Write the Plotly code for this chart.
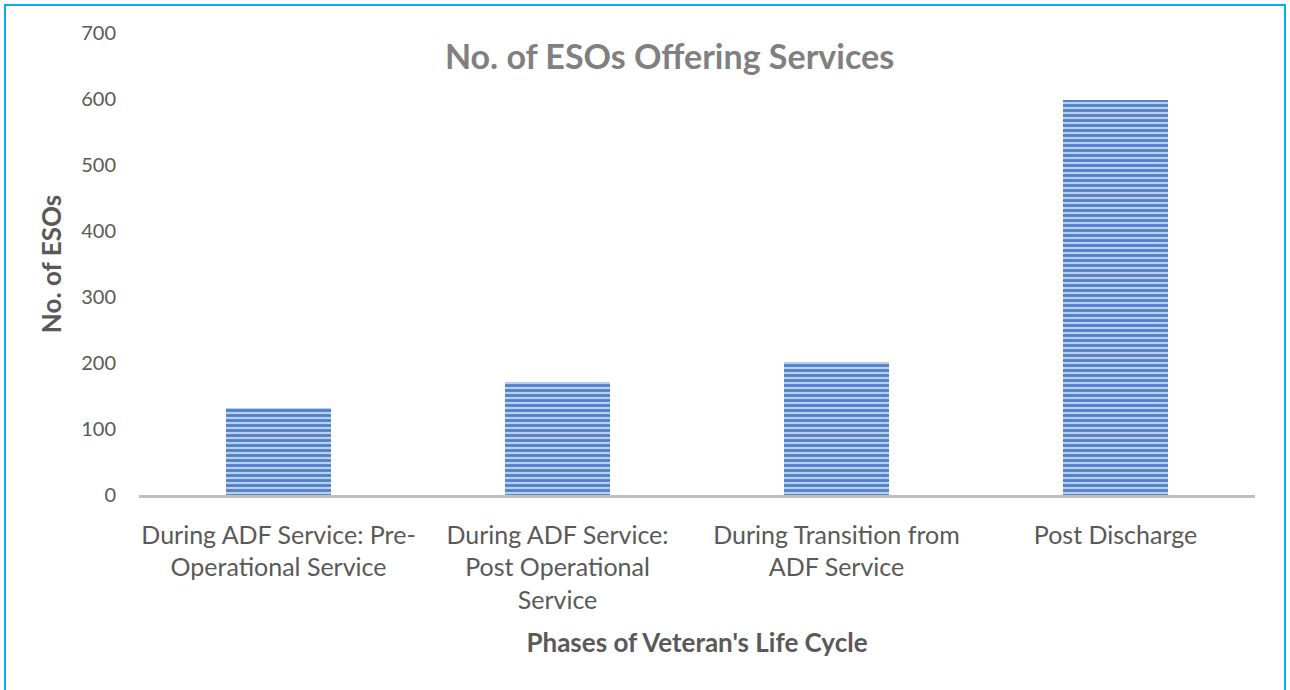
import plotly.graph_objects as go

categories = [
    "During ADF Service: Pre-<br>Operational Service",
    "During ADF Service:<br>Post Operational<br>Service",
    "During Transition from<br>ADF Service",
    "Post Discharge",
]
values = [132, 171, 202, 599]
y_ticks = [0, 100, 200, 300, 400, 500, 600, 700]

FONT = "Lato"
GREY = "#595959"

fig = go.Figure(
    go.Bar(
        x=categories,
        y=values,
        width=0.376,
        marker=dict(
            color="#a7c1e8",
            line=dict(width=0),
            pattern=dict(shape="-", fgcolor="#4f7fc6", bgcolor="#b8cfef",
                         size=5, solidity=0.55, fillmode="replace"),
        ),
    )
)

W, H = 1290, 690
L, R, T, B = 139, 35, 33, 195
pw, ph = W - L - R, H - T - B

def px_x(v):
    return (v - L) / pw

def px_y(v):
    return (H - B - v) / ph

fig.update_layout(
    width=W, height=H,
    margin=dict(l=L, r=R, t=T, b=B),
    paper_bgcolor="white", plot_bgcolor="white",
    font=dict(family=FONT, color=GREY, size=20),
    showlegend=False,
    bargap=0,
    title=dict(text="<b>No. of ESOs Offering Services</b>",
               font=dict(family=FONT, size=34, color="#808080"),
               x=0.519, xanchor="center", y=1 - 57 / H, yanchor="middle"),
    xaxis=dict(showgrid=False, zeroline=False, showline=True,
               linecolor="#BFBFBF", linewidth=2.5, ticks="",
               tickfont=dict(size=25, color=GREY), ticklabelstandoff=16,
               title=dict(text="<b>Phases of Veteran's Life Cycle</b>",
                          font=dict(size=26, color=GREY), standoff=22)),
    yaxis=dict(range=[0, 700], tickvals=y_ticks, showgrid=False,
               zeroline=False, showline=False, ticks="",
               tickfont=dict(size=20, color=GREY), ticklabelstandoff=22,
               title=dict(text="<b>No. of ESOs</b>",
                          font=dict(size=26, color=GREY), standoff=12)),
    shapes=[dict(type="rect", xref="paper", yref="paper",
                 x0=px_x(5), x1=px_x(1285), y0=px_y(H + 20), y1=px_y(5),
                 line=dict(color="#00B0F0", width=2), fillcolor="rgba(0,0,0,0)",
                 layer="below")],
)

fig.write_html("out.html")
